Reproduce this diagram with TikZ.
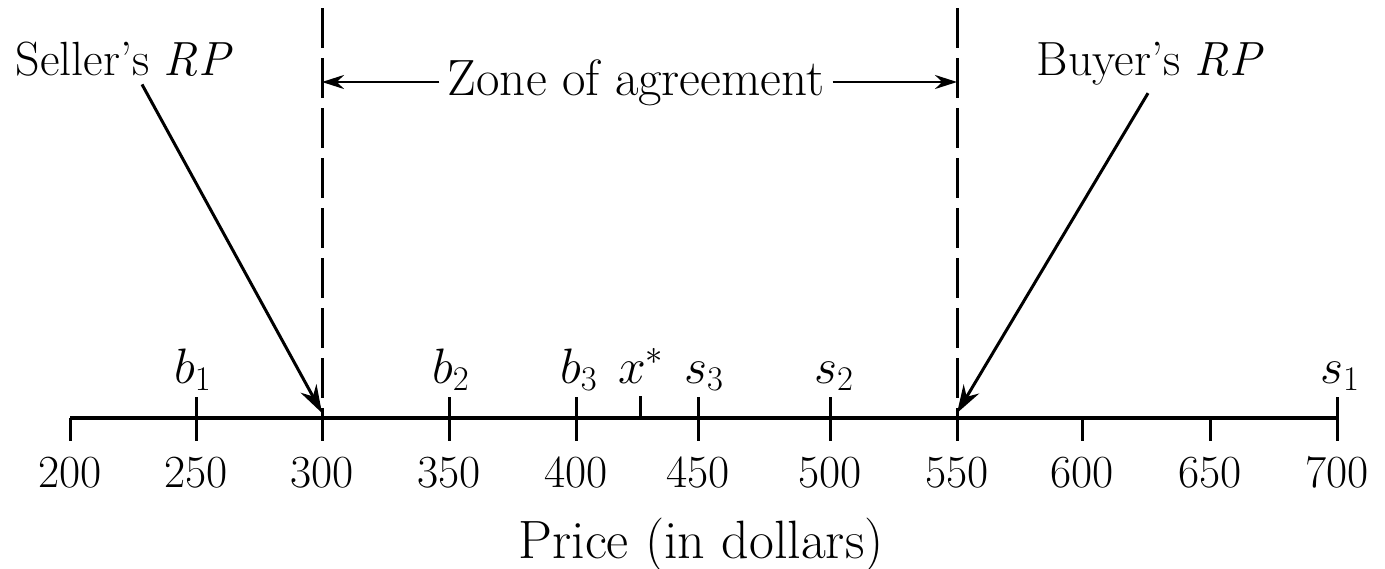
\documentclass[tikz,border=0pt]{standalone}
\usetikzlibrary{arrows.meta}
\begin{document}
\begin{tikzpicture}[x=0.5pt,y=-0.5pt,
  axisline/.style={line width=1.6pt},
  tickline/.style={line width=1.5pt},
  dashline/.style={line width=1.5pt,dash pattern=on 20pt off 5pt},
  pointer/.style={line width=1.3pt,-{Stealth[length=11pt,width=7pt]}},
  rppointer/.style={line width=1.5pt,-{Stealth[length=14pt,width=9pt]}},
  numlbl/.style={anchor=base,inner sep=0pt,font=\fontsize{23}{27}\selectfont},
  ptlbl/.style={anchor=base,inner sep=0pt,font=\fontsize{25}{29}\selectfont},
  bigtxt/.style={inner sep=0pt,font=\fontsize{24}{28}\selectfont}]
\useasboundingbox (0,0) rectangle (1385,568);
% axis
\coordinate (a200) at (70,418);
\coordinate (a700) at (1337,418);
\draw[axisline] (a200) -- (a700);
% ticks down only
\foreach \xx/\nm in {70/t200,322/t300,957/t550,1082/t600,1210/t650} {
  \coordinate (\nm) at (\xx,418);
  \draw[tickline] (\nm) -- ++(0,23);
}
% ticks up and down
\foreach \xx/\nm in {196/t250,449/t350,576/t400,698/t450,830/t500,1337/t700} {
  \coordinate (\nm) at (\xx,418);
  \draw[tickline] ([yshift=10.5pt]\nm) -- ++(0,44);
}
% x* tick up only
\coordinate (txs) at (640,418);
\draw[tickline] (txs) -- ++(0,-22);
% numbers
\foreach \xx/\v in {70/200,196/250,322/300,449/350,576/400,698/450,830/500,957/550,1082/600,1210/650,1337/700} {
  \node[numlbl] (n\v) at (\xx,487) {\v};
}
% point labels
\node[ptlbl] (lb1) at (193,383) {$b_1$};
\node[ptlbl] (lb2) at (451,383) {$b_2$};
\node[ptlbl] (lb3) at (579,383) {$b_3$};
\node[ptlbl] (lxs) at (641,383) {$x^{*}$};
\node[ptlbl] (ls3) at (704,383) {$s_3$};
\node[ptlbl] (ls2) at (834,383) {$s_2$};
\node[ptlbl] (ls1) at (1340,383) {$s_1$};
% dashed lines
\coordinate (d300) at (322,8);
\coordinate (d550) at (957,8);
\draw[dashline] (d300) -- (t300);
\draw[dashline] (d550) -- (t550);
% zone of agreement
\node[bigtxt,anchor=base,font=\fontsize{25.5}{30}\selectfont] (zone) at (636,95) {Zone of agreement};
\coordinate (zl) at (322,82);
\coordinate (zr) at (957,82);
\draw[pointer] ([xshift=-4pt]zl -| zone.west) -- (zl);
\draw[pointer] ([xshift=4pt]zr -| zone.east) -- (zr);
% reservation prices
\node[bigtxt,anchor=base] (seller) at (124,75) {Seller's \textit{RP}};
\node[bigtxt,anchor=base] (buyer) at (1150,75) {Buyer's \textit{RP}};
\coordinate (sp) at (322,413);
\coordinate (bp) at (957,413);
\draw[rppointer] ([xshift=9pt,yshift=-4pt]seller.south) -- (sp);
\draw[rppointer] ([xshift=-1pt,yshift=-4pt]buyer.south) -- (bp);
% axis title
\node[bigtxt,anchor=base,font=\fontsize{27}{31}\selectfont] (title) at (701,558) {Price (in dollars)};
\end{tikzpicture}
\end{document}
